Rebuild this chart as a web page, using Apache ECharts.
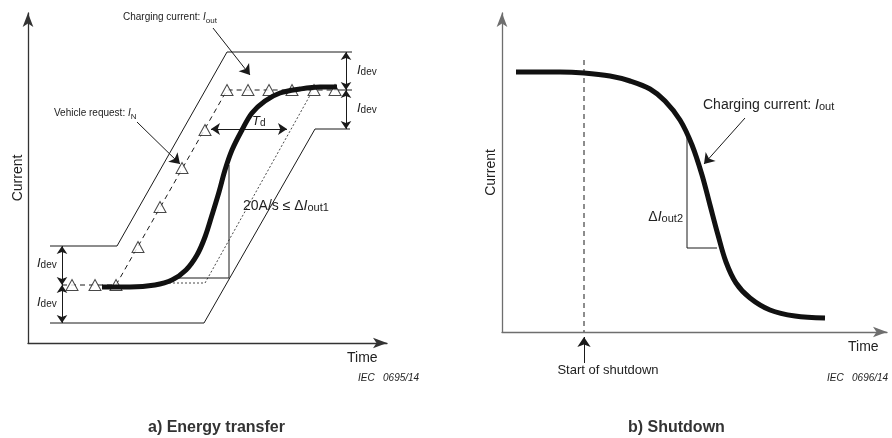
<!DOCTYPE html>
<html><head><meta charset="utf-8">
<script src="https://cdn.jsdelivr.net/npm/echarts@6/dist/echarts.min.js"></script>
<style>html,body{margin:0;padding:0;background:#fff}#c{width:892px;height:438px}</style>
</head><body><div id="c"></div>
<script>
// ---- Panel a) Energy transfer (time, current in diagram units) ----
const upperEnvelope = [[22,97],[89,97],[199,291],[324,291]];
const lowerEnvelope = [[22,20],[176,20],[287,214],[322,214]];
const vehicleRequestLine = [[34,58],[88,58],[199,253],[306,253]];
const requestTick = [[306,253],[324,253]];
const vehicleRequestPoints = [[44,58],[67,58],[88,58],[110,96],[132,136],[154,175],[177,213],[199,253],[220,253],[241,253],[264,253],[286,253],[307,253]];
const delayedRequest = [[137,60],[177,60],[285,253]];
const slopeTriangleA = [[145,65],[201,65],[201,178]];
const chargingCurrentA = [[74,56],[102,56],[127,58],[144,63],[158,73],[169,88],[177,106],[184,128],[191,151],[197,173],[204,193],[214,213],[224,230],[237,242],[252,250],[272,254],[292,256],[309,256]];
const idevArrowsA = [[[34,97],[34,58]],[[34,58],[34,20]],[[318,291],[318,253]],[[318,253],[318,214]]];
const tdArrow = [[183,214],[259,214]];
const calloutArrowsA = [[[185,315],[222,268]],[[109,221],[152,179]]];

// ---- Panel b) Shutdown ----
const chargingCurrentB = [[14,260],[58,260],[82,259],[108,256],[128,251],[148,243],[163,231],[178,212],[190,187],[200,157],[208,127],[216,97],[224,70],[234,49],[248,34],[268,22],[293,16],[323,14]];
const shutdownLine = [[82,272],[82,0]];
const shutdownArrow = [[82,-31],[82,-5]];
const slopeTriangleB = [[185,195],[185,84],[215,84]];
const calloutArrowB = [[243,214],[202,168]];

const FONT = '"Liberation Sans", Arial, sans-serif';
const INK = '#1a1a1a';
const chart = echarts.init(document.getElementById('c'), null, {renderer:'canvas'});

function axisX(grid, max, color){
  return {type:'value', gridIndex:grid, min:0, max:max,
    axisLine:{show:true, onZero:false, symbol:['none','arrow'], symbolSize:[8,14], lineStyle:{color:color, width:1.3}},
    axisTick:{show:false}, axisLabel:{show:false}, splitLine:{show:false}};
}
function axisY(grid, max, color, gap){
  return {type:'value', gridIndex:grid, min:0, max:max, name:'Current', nameLocation:'middle', nameGap:gap,
    nameTextStyle:{fontFamily:FONT, fontSize:14, color:'#222'},
    axisLine:{show:true, onZero:false, symbol:['none','arrow'], symbolSize:[8,14], lineStyle:{color:color, width:1.3}},
    axisTick:{show:false}, axisLabel:{show:false}, splitLine:{show:false}};
}
function line(data, g, opts){
  return Object.assign({type:'line', xAxisIndex:g, yAxisIndex:g, data:data, symbol:'none', silent:true,
    lineStyle:{color:INK, width:1}, animation:false, z:2}, opts||{});
}
function arrows(list, g, sym, size){
  return {type:'lines', coordinateSystem:'cartesian2d', xAxisIndex:g, yAxisIndex:g, clip:false, silent:true,
    symbol:sym, symbolSize:size||9, animation:false, z:4,
    lineStyle:{color:INK, width:1, opacity:1, curveness:0},
    data:list.map(c=>({coords:c}))};
}
function txt(x, y, text, size, opts){
  const st = Object.assign({text:text, fontFamily:FONT, fontSize:size, fill:'#222', verticalAlign:'middle', align:'left',
    rich:{i:{fontStyle:'italic', fontSize:size, fontFamily:FONT, lineHeight:15},
          s:{fontSize:Math.round(size*0.78), verticalAlign:'bottom', lineHeight:15, fontFamily:FONT},
          n:{fontSize:size, fontFamily:FONT, lineHeight:15}}}, opts||{});
  return {type:'text', x:x, y:y, silent:true, style:st};
}

chart.setOption({
  animation:false,
  backgroundColor:'#fff',
  grid:[{left:28, top:13, width:359, height:330}, {left:502, top:13, width:385, height:319}],
  xAxis:[axisX(0,359,'#333'), axisX(1,385,'#6e6e6e')],
  yAxis:[axisY(0,330,'#333',3), axisY(1,319,'#6e6e6e',4)],
  series:[
    line(upperEnvelope,0),
    line(lowerEnvelope,0),
    line(vehicleRequestLine,0,{lineStyle:{color:INK,width:1,type:[5,4]}}),
    line(requestTick,0),
    line(delayedRequest,0,{lineStyle:{color:INK,width:0.8,type:[2,2]}}),
    line(slopeTriangleA,0),
    {type:'scatter', xAxisIndex:0, yAxisIndex:0, data:vehicleRequestPoints, symbol:'triangle', symbolSize:[12,11],
      itemStyle:{color:'#fff', borderColor:INK, borderWidth:1}, z:3, silent:true, animation:false},
    line(chargingCurrentA,0,{smooth:0.35, lineStyle:{color:'#111',width:5}, z:5}),
    arrows(idevArrowsA,0,['arrow','arrow'],8),
    arrows([tdArrow],0,['arrow','arrow'],9),
    arrows(calloutArrowsA,0,['none','arrow'],10),
    line(chargingCurrentB,1,{smooth:0.35, lineStyle:{color:'#111',width:5}, z:5}),
    line(shutdownLine,1,{lineStyle:{color:INK,width:1,type:[5,4]}}),
    arrows([shutdownArrow],1,['none','arrow'],10),
    line(slopeTriangleB,1),
    arrows([calloutArrowB],1,['none','arrow'],10)
  ],
  graphic:[
    txt(123,17,'Charging current: {i|I}{s|out}',10),
    txt(54,113,'Vehicle request: {i|I}{s|N}',10),
    txt(37,263,'{i|I}{s|dev}',13),
    txt(37,302,'{i|I}{s|dev}',13),
    txt(357,70,'{i|I}{s|dev}',13),
    txt(357,108,'{i|I}{s|dev}',13),
    txt(252,121,'{i|T}{s|d}',13),
    txt(243,206,'{n|20A/s ≤ Δ}{i|I}{s|out1}',14),
    txt(347,358,'Time',14),
    txt(358,378,'IEC   0695/14',10,{fontStyle:'italic'}),
    txt(703,105,'{n|Charging current: }{i|I}{s|out}',14),
    txt(683,217,'{n|Δ}{i|I}{s|out2}',14,{align:'right'}),
    txt(608,370,'Start of shutdown',13,{align:'center'}),
    txt(848,347,'Time',14),
    txt(827,378,'IEC   0696/14',10,{fontStyle:'italic'}),
    txt(148,428,'a) Energy transfer',16,{fontWeight:'bold', fill:'#333'}),
    txt(628,428,'b) Shutdown',16,{fontWeight:'bold', fill:'#333'})
  ]
});
</script></body></html>
